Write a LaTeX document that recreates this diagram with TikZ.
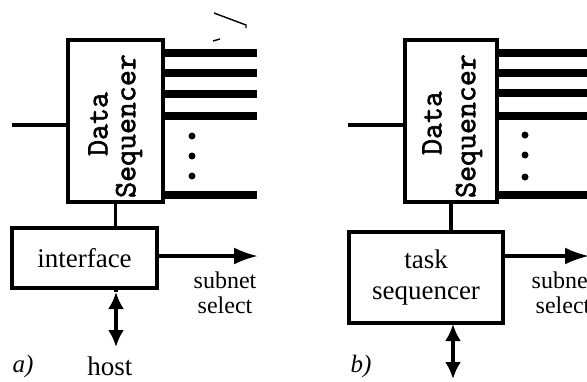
\documentclass[tikz,border=0pt]{standalone}
\usepackage{fontspec}
\setmainfont{Liberation Serif}
\newfontfamily\seqfont[FakeBold=2]{Latin Modern Mono}
\usetikzlibrary{arrows.meta}
\begin{document}
\begin{tikzpicture}[x=1pt,y=-1pt,
  blk/.style={draw,line width=3.2pt,inner sep=0pt},
  wire/.style={line width=3.2pt},
  bus/.style={line width=7.5pt},
  tip/.style={-{Latex[length=24pt,width=17pt]}},
  htip/.style={-{Latex[length=17pt,width=16pt]}},
  seqtxt/.style={font=\fontsize{31}{34}\selectfont\seqfont, rotate=90, inner sep=0pt},
  lbl/.style={font=\fontsize{27}{31}\selectfont, align=center},
  sml/.style={font=\fontsize{24}{25}\selectfont, align=center},
  dotn/.style={circle,fill,inner sep=0pt,minimum size=7pt}]
\useasboundingbox (0,0) rectangle (587,381);
\clip (0,0) rectangle (587,381);

% ---------- panel a ----------
\node[blk, minimum width=95pt, minimum height=162pt] (dsa) at (115.5,121) {};
\node[seqtxt] (dta) at (98,124) {Data};
\node[seqtxt] (sqa) at (129,126) {Sequencer};
\node[blk, lbl, minimum width=145pt, minimum height=60pt] (ifa) at (84.5,258) {interface};

\coordinate (ina) at (12,125);
\draw[wire] (ina) -- (ina -| dsa.west);
\foreach \y in {53,73,94,116,195}
  \draw[bus] (dsa.east |- 0,\y) -- (257,\y);
\foreach \y [count=\i] in {136,156,176}
  \node[dotn] (da\i) at (192,\y) {};

\draw[wire] (dsa.south) -- (dsa.south |- ifa.north);

\coordinate (sa) at (258,256);
\draw[wire,tip] (ifa.east |- sa) -- (sa);
\node[sml] (ssa) at (225,293) {subnet\\select};

\coordinate (hua) at (116,292);
\coordinate (hma) at (116,317);
\coordinate (hda) at (116,347);
\draw[wire] (hua |- ifa.south) -- (hua);
\draw[wire,htip] (hma) -- (hua);
\draw[wire,htip] (hma) -- (hda);
\node[lbl] (host) at (110,366) {host};
\node[lbl, font=\fontsize{25}{31}\selectfont\itshape] (la) at (23,366) {a)};

\draw[line width=1.4pt] (214,13) -- (246,25) -- (246,28);
\draw[line width=1.4pt] (213,41) -- (220,39);

% ---------- panel b ----------
\node[blk, minimum width=92pt, minimum height=162pt] (dsb) at (451,121) {};
\node[seqtxt] (dtb) at (432,123) {Data};
\node[seqtxt] (sqb) at (469,126) {Sequencer};
\node[blk, lbl, minimum width=154pt, minimum height=91pt] (tsk) at (426,277.5) {task\\sequencer};

\coordinate (inb) at (348,125);
\draw[wire] (inb) -- (inb -| dsb.west);
\foreach \y in {53,73,93,116,195}
  \draw[bus] (dsb.east |- 0,\y) -- (590,\y);
\foreach \y [count=\i] in {135,155,177}
  \node[dotn] (db\i) at (525,\y) {};

\draw[wire] (dsb.south) -- (dsb.south |- tsk.north);

\coordinate (sb) at (589,256);
\draw[wire,tip] (tsk.east |- sb) -- (sb);
\node[sml] (ssb) at (563,293) {subnet\\select};

\coordinate (hub) at (453,324);
\coordinate (hmb) at (453,347);
\coordinate (hdb) at (453,379);
\draw[wire,htip] (hmb) -- (hub);
\draw[wire,htip] (hmb) -- (hdb);
\node[lbl, font=\fontsize{25}{31}\selectfont\itshape] (lb) at (361,366) {b)};
\end{tikzpicture}
\end{document}
